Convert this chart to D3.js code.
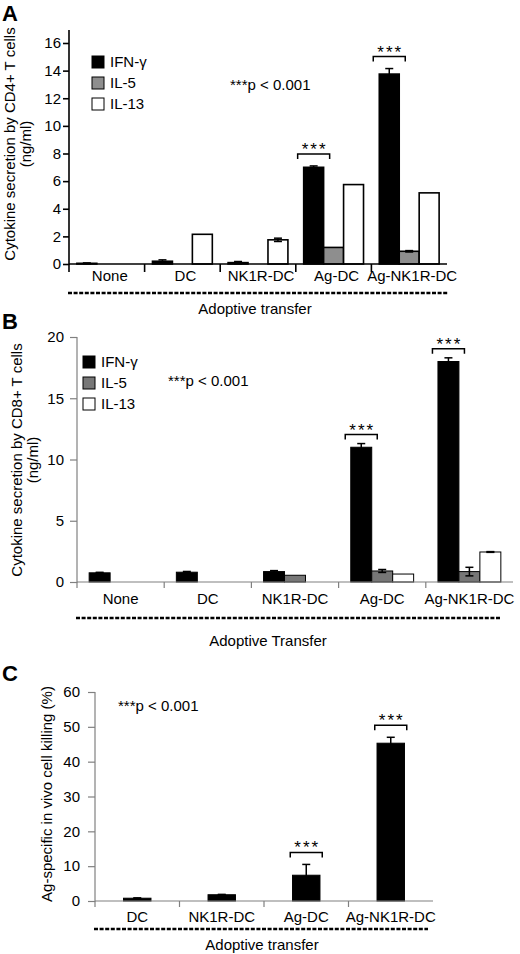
<!DOCTYPE html>
<html>
<head>
<meta charset="utf-8">
<script src="https://cdn.jsdelivr.net/npm/d3@7"></script>
<style>
  body { margin: 0; background: #fff; }
  svg { display: block; font-family: "Liberation Sans", Arial, sans-serif; }
</style>
</head>
<body>
<svg id="chart" width="520" height="954"></svg>
<script>
// ---- data ----
const seriesNames = ["IFN-γ", "IL-5", "IL-13"]

const catsA = ["None", "DC", "NK1R-DC", "Ag-DC", "Ag-NK1R-DC"]
const ifnA = [0.05, 0.2, 0.1, 7.0, 13.75]
const ifnAErr = [0.03, 0.1, 0.08, 0.1, 0.4]
const il5A = [0, 0, 0, 1.2, 0.92]
const il5AErr = [0, 0, 0, 0, 0.05]
const il13A = [0, 2.15, 1.75, 5.75, 5.15]
const il13AErr = [0, 0, 0.12, 0, 0]
const ticksA = [0, 2, 4, 6, 8, 10, 12, 14, 16]
const sigA = ["Ag-DC", "Ag-NK1R-DC"]

const catsB = ["None", "DC", "NK1R-DC", "Ag-DC", "Ag-NK1R-DC"]
const ifnB = [0.75, 0.8, 0.85, 11.0, 18.0]
const ifnBErr = [0.04, 0.06, 0.08, 0.3, 0.3]
const il5B = [0, 0, 0.55, 0.9, 0.85]
const il5BErr = [0, 0, 0, 0.12, 0.35]
const il13B = [0, 0, 0, 0.65, 2.45]
const il13BErr = [0, 0, 0, 0, 0.03]
const ticksB = [0, 5, 10, 15, 20]
const sigB = ["Ag-DC", "Ag-NK1R-DC"]

const catsC = ["DC", "NK1R-DC", "Ag-DC", "Ag-NK1R-DC"]
const killC = [0.8, 1.8, 7.4, 45.3]
const killCErr = [0.1, 0.1, 3.1, 1.7]
const ticksC = [0, 10, 20, 30, 40, 50, 60]
const sigC = ["Ag-DC", "Ag-NK1R-DC"]

const svg = d3.select("#chart")
const fontSize = "15px"

function makeRows(cats, vals, errs) {
  // one row per category, one entry per series
  return cats.map((c, i) => ({
    cat: c,
    bars: vals.map((v, s) => ({ key: seriesNames[s], value: v[i], err: errs[s][i] }))
  }))
}

function drawPanel(p) {
  const g = svg.append("g")
  const x = d3.scaleBand().domain(p.cats).range([p.left, p.right])
  const y = d3.scaleLinear().domain([0, p.yMax]).range([p.bottom, p.top])
  const inner = d3.scaleBand().domain(p.keys).range([0, x.bandwidth()])
    .paddingInner(0).paddingOuter(p.outerPad)

  // y axis
  const yAxis = g.append("g")
    .attr("transform", `translate(${p.left},0)`)
    .call(d3.axisLeft(y).tickValues(p.ticks).tickSize(p.tickLen).tickSizeOuter(0).tickPadding(p.tickPad))
  yAxis.select(".domain").remove()
  yAxis.selectAll("line").attr("stroke", p.axisColor).attr("stroke-width", p.axisWidth)
  yAxis.selectAll("text").style("font-size", fontSize).attr("fill", "#000")
  g.append("line")
    .attr("x1", p.left).attr("x2", p.left)
    .attr("y1", p.bottom + p.axisWidth / 2).attr("y2", p.axisTop)
    .attr("stroke", p.axisColor).attr("stroke-width", p.axisWidth)

  // bars
  const rows = g.selectAll("g.cat").data(p.rows).join("g")
    .attr("class", "cat")
    .attr("transform", d => `translate(${x(d.cat)},0)`)
  rows.selectAll("rect").data(d => d.bars.filter(b => b.value > 0)).join("rect")
    .attr("x", b => inner(b.key))
    .attr("width", inner.bandwidth())
    .attr("y", b => y(b.value))
    .attr("height", b => y(0) - y(b.value))
    .attr("fill", b => p.colors[p.keys.indexOf(b.key)])
    .attr("stroke", "#000")
    .attr("stroke-width", p.barStroke)

  // error bars
  const err = rows.selectAll("g.err").data(d => d.bars.filter(b => b.err > 0)).join("g")
    .attr("class", "err")
  err.append("line")
    .attr("x1", b => inner(b.key) + inner.bandwidth() / 2)
    .attr("x2", b => inner(b.key) + inner.bandwidth() / 2)
    .attr("y1", b => y(b.value - b.err))
    .attr("y2", b => y(b.value + b.err))
    .attr("stroke", "#000").attr("stroke-width", 1.5)
  err.selectAll("line.cap").data(b => [b.value - b.err, b.value + b.err].map(v => ({ b, v }))).join("line")
    .attr("class", "cap")
    .attr("x1", d => inner(d.b.key) + inner.bandwidth() / 2 - 4)
    .attr("x2", d => inner(d.b.key) + inner.bandwidth() / 2 + 4)
    .attr("y1", d => y(d.v)).attr("y2", d => y(d.v))
    .attr("stroke", "#000").attr("stroke-width", 1.5)

  // x baseline and category ticks
  g.append("line")
    .attr("x1", p.left).attr("x2", p.right)
    .attr("y1", p.bottom).attr("y2", p.bottom)
    .attr("stroke", p.axisColor).attr("stroke-width", p.axisWidth)
  g.selectAll("line.xt").data(p.cats).join("line")
    .attr("class", "xt")
    .attr("x1", d => x(d)).attr("x2", d => x(d))
    .attr("y1", p.bottom).attr("y2", p.bottom + p.xTickLen)
    .attr("stroke", p.axisColor).attr("stroke-width", p.axisWidth)
  g.selectAll("text.xl").data(p.cats).join("text")
    .attr("class", "xl")
    .attr("x", d => x(d) + x.bandwidth() / 2 + p.labelShift)
    .attr("y", p.labelY)
    .attr("text-anchor", "middle")
    .style("font-size", fontSize)
    .text(d => d)

  // significance brackets over the first series
  p.sig.forEach(c => {
    const row = p.rows.find(r => r.cat === c)
    const b = row.bars[0]
    const cx = x(c) + inner(b.key) + inner.bandwidth() / 2
    const by = y(b.value + b.err) - p.sigGap
    g.append("path")
      .attr("d", `M${cx - 16},${by + 5}V${by}H${cx + 16}V${by + 5}`)
      .attr("fill", "none").attr("stroke", "#000").attr("stroke-width", 1.5)
    g.append("text")
      .attr("x", cx + 1).attr("y", by + 1)
      .attr("text-anchor", "middle")
      .style("font-size", "17px").style("letter-spacing", "2px")
      .text("***")
  })

  // dashed bracket line and title
  g.append("line")
    .attr("x1", p.dashFrom).attr("x2", p.dashTo)
    .attr("y1", p.dashY).attr("y2", p.dashY)
    .attr("stroke", "#000").attr("stroke-width", 2.5)
    .attr("stroke-dasharray", "4,1.6")
  g.append("text")
    .attr("x", p.xTitleX).attr("y", p.xTitleY)
    .attr("text-anchor", "middle").style("font-size", fontSize)
    .text(p.xTitle)

  // y title (rotated, one or two lines)
  p.yTitle.forEach((t, i) => {
    g.append("text")
      .attr("transform", `translate(${p.yTitleX[i]},${p.yTitleY}) rotate(-90)`)
      .attr("text-anchor", "middle").style("font-size", fontSize)
      .text(t)
  })

  // p-value note
  g.append("text")
    .attr("x", p.noteX).attr("y", p.noteY)
    .style("font-size", fontSize)
    .text("***p < 0.001")

  // legend
  if (p.legend) {
    p.keys.forEach((k, i) => {
      g.append("rect")
        .attr("x", p.legendX).attr("y", p.legendY + i * 21 - 6)
        .attr("width", 12).attr("height", 12)
        .attr("fill", p.colors[i]).attr("stroke", "#000").attr("stroke-width", 1)
      g.append("text")
        .attr("x", p.legendX + 18).attr("y", p.legendY + i * 21 + 5)
        .style("font-size", fontSize)
        .text(k)
    })
  }

  // panel letter
  g.append("text")
    .attr("x", 2).attr("y", p.letterY)
    .style("font-size", "22px").style("font-weight", "bold")
    .text(p.letter)
}

drawPanel({
  letter: "A", letterY: 21,
  cats: catsA, keys: seriesNames,
  rows: makeRows(catsA, [ifnA, il5A, il13A], [ifnAErr, il5AErr, il13AErr]),
  colors: ["#000", "#8e8e8e", "#fff"],
  left: 69, right: 447, bottom: 264, top: 43, yMax: 16, axisTop: 30,
  ticks: ticksA, tickLen: 6, tickPad: 2, outerPad: 0.395,
  axisColor: "#000", axisWidth: 1.6, barStroke: 1.6, xTickLen: 8,
  labelY: 281, labelShift: 3,
  sig: sigA, sigGap: 12,
  dashFrom: 68, dashTo: 448, dashY: 293,
  xTitle: "Adoptive transfer", xTitleX: 255, xTitleY: 314,
  yTitle: ["Cytokine secretion by CD4+ T cells", "(ng/ml)"], yTitleX: [15, 31], yTitleY: 144,
  noteX: 230, noteY: 90,
  legend: true, legendX: 92, legendY: 62
})

drawPanel({
  letter: "B", letterY: 329,
  cats: catsB, keys: seriesNames,
  rows: makeRows(catsB, [ifnB, il5B, il13B], [ifnBErr, il5BErr, il13BErr]),
  colors: ["#000", "#777", "#fff"],
  left: 77, right: 513, bottom: 582, top: 337, yMax: 20, axisTop: 337,
  ticks: ticksB, tickLen: 7, tickPad: 6, outerPad: 0.58,
  axisColor: "#808080", axisWidth: 1.2, barStroke: 1, xTickLen: 6,
  labelY: 604, labelShift: 0,
  sig: sigB, sigGap: 9,
  dashFrom: 76, dashTo: 500, dashY: 618,
  xTitle: "Adoptive Transfer", xTitleX: 268, xTitleY: 646,
  yTitle: ["Cytokine secretion by CD8+ T cells", "(ng/ml)"], yTitleX: [22, 38], yTitleY: 460,
  noteX: 168, noteY: 386,
  legend: true, legendX: 83, legendY: 362
})

drawPanel({
  letter: "C", letterY: 681,
  cats: catsC, keys: ["kill"],
  rows: catsC.map((c, i) => ({ cat: c, bars: [{ key: "kill", value: killC[i], err: killCErr[i] }] })),
  colors: ["#000"],
  left: 95, right: 433, bottom: 901, top: 692, yMax: 60, axisTop: 692,
  ticks: ticksC, tickLen: 7, tickPad: 8, outerPad: 1.04,
  axisColor: "#808080", axisWidth: 1.2, barStroke: 1, xTickLen: 6,
  labelY: 922, labelShift: 0,
  sig: sigC, sigGap: 12,
  dashFrom: 94, dashTo: 428, dashY: 929,
  xTitle: "Adoptive transfer", xTitleX: 262, xTitleY: 950,
  yTitle: ["Ag-specific in vivo cell killing (%)"], yTitleX: [52], yTitleY: 794,
  noteX: 118, noteY: 711,
  legend: false
})
</script>
</body>
</html>
